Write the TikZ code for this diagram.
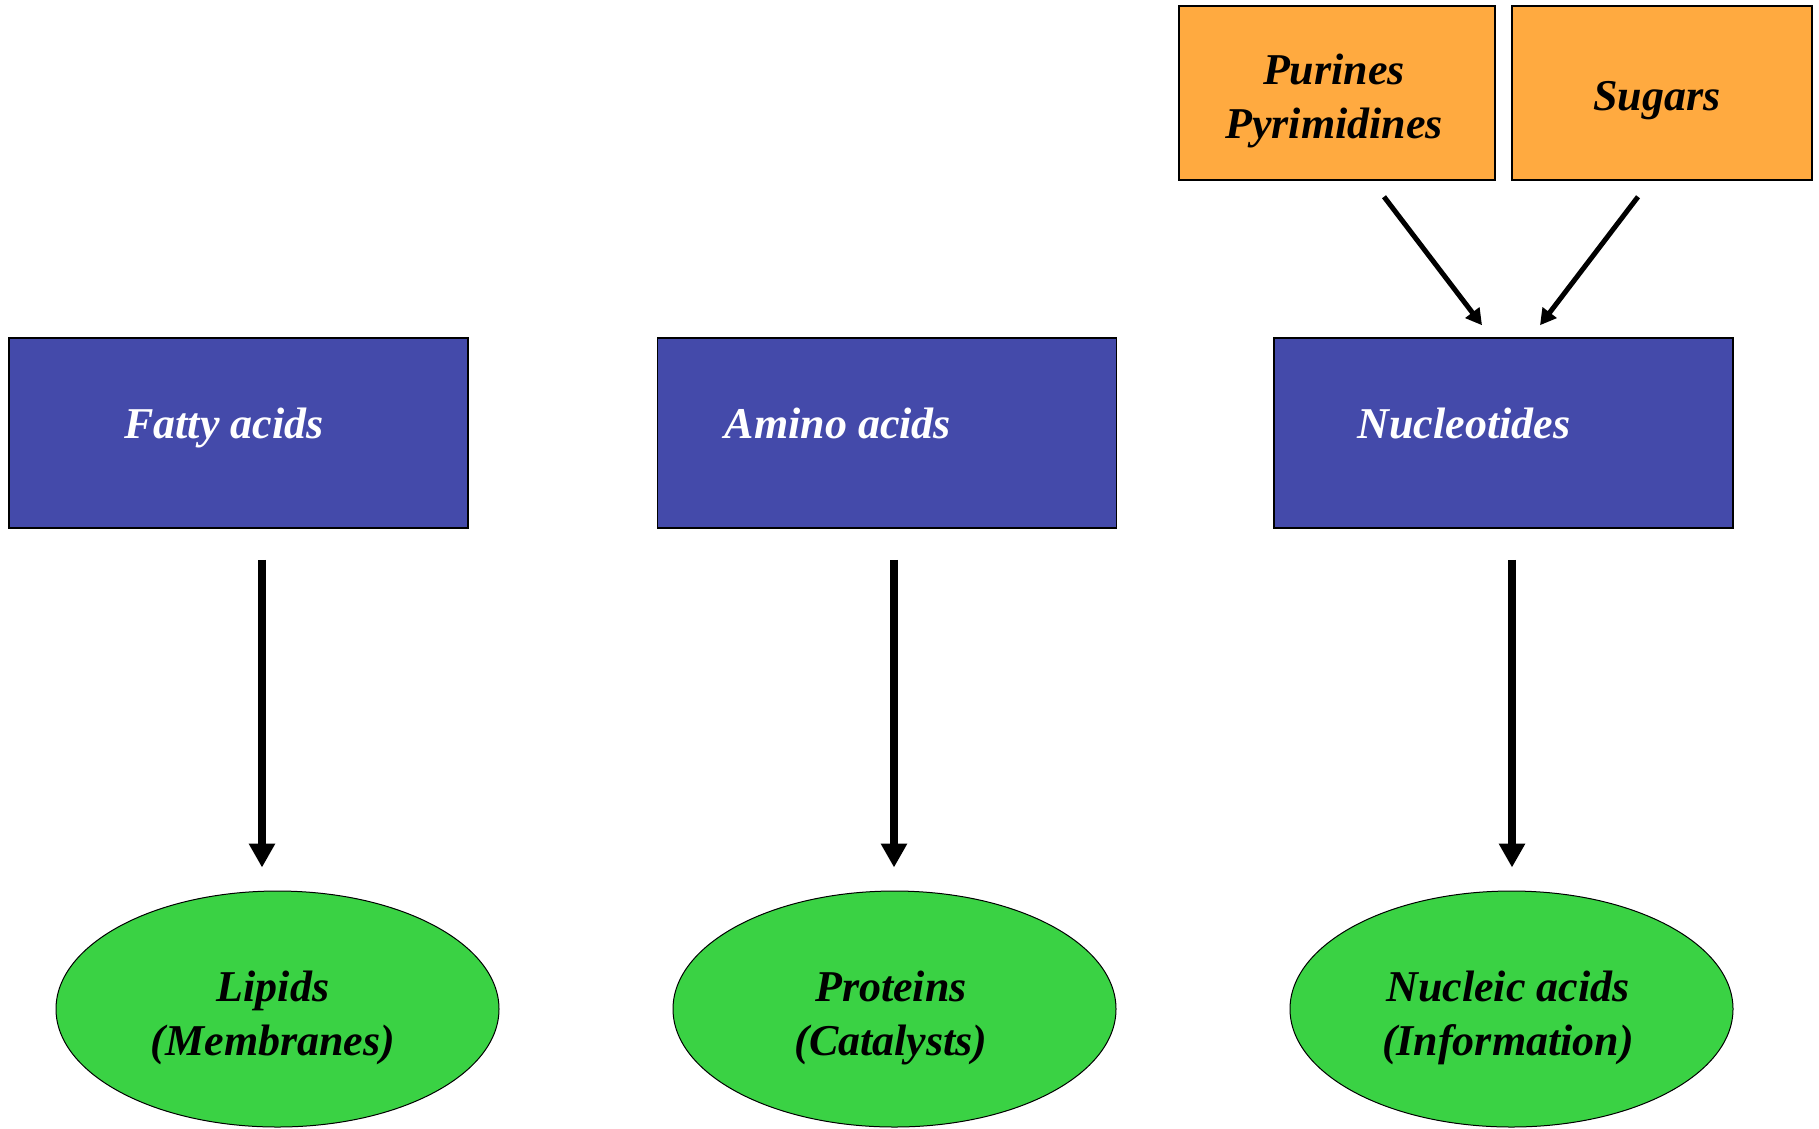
\documentclass[tikz,border=0pt]{standalone}
\usepackage{fontspec}
\setmainfont{Liberation Serif}
\usetikzlibrary{arrows.meta,shapes.geometric}
\definecolor{boxblue}{RGB}{68,74,170}
\definecolor{srcorange}{RGB}{255,170,64}
\definecolor{prodgreen}{RGB}{58,210,68}
\begin{document}
\begin{tikzpicture}[x=1pt,y=-1pt,
  lbl/.style={font=\fontsize{44}{54}\selectfont\bfseries\itshape, align=center, inner sep=0pt},
  srcbox/.style={draw=black, line width=1.5pt, fill=srcorange, minimum width=#1, minimum height=174pt, inner sep=0pt},
  monobox/.style={draw=black, line width=1.5pt, fill=boxblue, minimum width=459pt, minimum height=190pt, inner sep=0pt},
  prod/.style={ellipse, draw=black, line width=1pt, fill=prodgreen, minimum width=443pt, minimum height=236pt, inner sep=0pt},
  bigarrow/.style={line width=8pt, -{Triangle[width=25pt,length=24pt]}},
  smallarrow/.style={line width=5pt, -{Triangle[width=17pt,length=16pt]}}
]
\useasboundingbox (0,0) rectangle (1819,1128);
% source boxes
\node[srcbox=316pt] (o1) at (1337,93) {};
\node[srcbox=300pt] (o2) at (1662,93) {};
\node[lbl] (ot1) at (1334,101) {Purines\\Pyrimidines};
\node[lbl] (ot2) at (1657,101) {Sugars};
% monomer boxes
\node[monobox] (b1) at (238.5,433) {};
\node[monobox] (b2) at (887,433) {};
\node[monobox] (b3) at (1503.5,433) {};
\node[lbl, text=white, anchor=base] (t1) at (224,438) {Fatty acids};
\node[lbl, text=white, anchor=base] (t2) at (838,438) {Amino acids};
\node[lbl, text=white, anchor=base] (t3) at (1464,438) {Nucleotides};
% products
\node[prod] (e1) at (277.5,1009) {};
\node[prod] (e2) at (894.5,1009) {};
\node[prod] (e3) at (1511.5,1009) {};
\node[lbl] (et1) at (273,1017.5) {Lipids\\(Membranes)};
\node[lbl] (et2) at (891,1017.5) {Proteins\\(Catalysts)};
\node[lbl] (et3) at (1508,1017.5) {Nucleic acids\\(Information)};
% arrows
\draw[smallarrow] ([shift={(47,16)}]o1.south) -- ([shift={(-21.5,-12)}]b3.north);
\draw[smallarrow] ([shift={(-24,16)}]o2.south) -- ([shift={(36.5,-12)}]b3.north);
\draw[bigarrow] ([shift={(23.5,31)}]b1.south) -- ([shift={(-15.5,-23)}]e1.north);
\draw[bigarrow] ([shift={(7,31)}]b2.south) -- ([shift={(-0.5,-23)}]e2.north);
\draw[bigarrow] ([shift={(8.5,31)}]b3.south) -- ([shift={(0.5,-23)}]e3.north);
\end{tikzpicture}
\end{document}
